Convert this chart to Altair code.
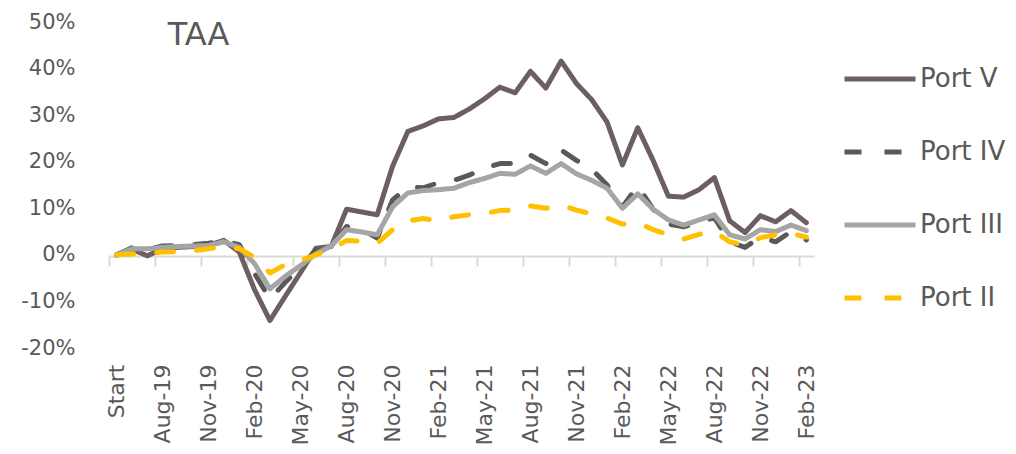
import altair as alt
import pandas as pd

chart_title = ["TAA"]
months = ["Start", "Jun-19", "Jul-19", "Aug-19", "Sep-19", "Oct-19", "Nov-19", "Dec-19",
          "Jan-20", "Feb-20", "Mar-20", "Apr-20", "May-20", "Jun-20", "Jul-20", "Aug-20",
          "Sep-20", "Oct-20", "Nov-20", "Dec-20", "Jan-21", "Feb-21", "Mar-21", "Apr-21",
          "May-21", "Jun-21", "Jul-21", "Aug-21", "Sep-21", "Oct-21", "Nov-21", "Dec-21",
          "Jan-22", "Feb-22", "Mar-22", "Apr-22", "May-22", "Jun-22", "Jul-22", "Aug-22",
          "Sep-22", "Oct-22", "Nov-22", "Dec-22", "Jan-23", "Feb-23"]
tick_months = ["Start", "Aug-19", "Nov-19", "Feb-20", "May-20", "Aug-20", "Nov-20", "Feb-21",
               "May-21", "Aug-21", "Nov-21", "Feb-22", "May-22", "Aug-22", "Nov-22", "Feb-23"]
y_ticks = [-0.2, -0.1, 0.0, 0.1, 0.2, 0.3, 0.4, 0.5]

series = ["Port V", "Port IV", "Port III", "Port II"]

port_v = [0, 1.2, -0.2, 1.3, 1.6, 1.8, 2.1, 3.1, 0.6, -7.5, -14.1, -8.9, -3.8, 1.4, 1.8,
          9.8, 9.2, 8.6, 19.0, 26.5, 27.7, 29.2,
          29.5, 31.3, 33.5, 36.0, 34.8, 39.4, 35.8, 41.6, 36.8, 33.3,
          28.5, 19.3, 27.3, 20.3, 12.6, 12.4, 14.0, 16.6, 7.3, 4.8, 8.4, 7.1, 9.5, 6.9]
port_iv = [0, 1.5, 1.2, 1.9, 2.0, 2.2, 2.5, 3.0, 2.2, -4.0, -9.5, -5.9, -2.5, 1.0, 1.8,
           6.1, 5.5, 3.6, 11.8, 14.6, 14.4, 15.5,
           16.0, 17.1, 18.6, 19.6, 19.6, 21.4, 19.6, 22.5, 20.3, 18.4,
           15.0, 10.3, 14.8, 9.8, 6.6, 6.0, 7.0, 8.0, 2.8, 1.6, 3.8, 2.8, 5.0, 3.2]
port_iii = [0, 1.3, 1.3, 1.6, 1.8, 1.9, 2.0, 2.8, 1.6, -1.9, -7.3, -4.6, -2.3, 0.2, 1.9,
            5.4, 4.9, 4.3, 10.3, 13.3, 13.8, 14.0,
            14.3, 15.5, 16.4, 17.5, 17.3, 19.1, 17.5, 19.6, 17.4, 16.0,
            14.3, 10.0, 13.1, 9.8, 7.5, 6.4, 7.5, 8.6, 4.3, 3.4, 5.4, 5.0, 6.4, 5.2]
port_ii = [0, 0.2, 0.4, 0.6, 0.7, 0.9, 1.3, 1.8, 1.3, -0.5, -3.9, -2.1, -1.2, 0.0, 1.2,
           3.1, 2.9, 2.5, 5.4, 7.3, 7.8, 7.3,
           8.2, 8.6, 8.9, 9.5, 9.6, 10.5, 10.0, 10.7, 9.6, 8.8,
           7.9, 6.6, 6.9, 5.4, 4.3, 3.4, 4.4, 5.0, 2.8, 2.1, 3.7, 4.3, 4.6, 3.8]

colors = ["#6D5F5F", "#595959", "#A5A5A5", "#FFC000"]
dashes = [[1, 0], [17, 23], [1, 0], [17, 23]]

rows = []
for name, vals in zip(series, [port_v, port_iv, port_iii, port_ii]):
    for m, v in zip(months, vals):
        rows.append({"month": m, "series": name, "value": v / 100})
df = pd.DataFrame(rows)
title_df = pd.DataFrame({"label": chart_title})

FONT = "DejaVu Sans"
TXT = "#595959"
W, H = 705, 326
step = W / len(months)

xscale = alt.Scale(type="point", padding=0.5, domain=months)
yscale = alt.Scale(domain=[-0.2, 0.5], nice=False, zero=False)

legend = alt.Legend(title=None, orient="none", legendX=733, legendY=19,
                    symbolType="stroke", symbolSize=5041, symbolStrokeWidth=5,
                    labelFontSize=26, labelFont=FONT, labelColor=TXT, labelOffset=2,
                    rowPadding=22, padding=0)

yaxis = alt.Axis(values=y_ticks, format=".0%", labelFontSize=21, labelColor=TXT,
                 labelFont=FONT, domain=False, ticks=False, grid=False,
                 labelExpr="replace(datum.label, '\u2212', '-')",
                 labelPadding=34, title=None)

lines = alt.Chart(df).mark_line(strokeWidth=5, strokeCap="round", strokeJoin="round").encode(
    x=alt.X("month:N", scale=xscale,
            axis=alt.Axis(orient="bottom", offset=-92, labels=False, ticks=True, tickSize=10,
                          tickWidth=2, tickColor="#D9D9D9", domainColor="#D9D9D9", domainWidth=2,
                          values=tick_months, tickOffset=-step / 2, grid=False, title=None)),
    y=alt.Y("value:Q", scale=yscale, axis=yaxis),
    color=alt.Color("series:N", scale=alt.Scale(domain=series, range=colors), legend=legend),
    strokeDash=alt.StrokeDash("series:N", scale=alt.Scale(domain=series, range=dashes), legend=legend),
    detail="series:N",
)

labels_layer = alt.Chart(df).mark_point(opacity=0).encode(
    x=alt.X("month:N", scale=xscale,
            axis=alt.Axis(orient="bottom", values=tick_months, labelAngle=270, labelFontSize=22,
                          labelColor=TXT, labelFont=FONT, labelPadding=16, ticks=False,
                          domain=False, grid=False, title=None, labelOverlap=False)),
)

title_layer = alt.Chart(title_df).mark_text(
    align="left", baseline="alphabetic", fontSize=32, font=FONT, color=TXT, dx=5
).encode(
    x=alt.X(datum="Aug-19", type="nominal", scale=xscale, axis=None),
    y=alt.Y(datum=0.45, type="quantitative", scale=yscale, axis=yaxis),
    text="label:N",
)

chart = alt.layer(lines, labels_layer, title_layer).resolve_axis(x="independent").properties(
    width=W, height=H,
    autosize=alt.AutoSizeParams(type="none"),
    padding={"left": 101, "top": 14, "right": 194, "bottom": 98},
).configure_view(stroke=None)

chart.save("out.html", embed_options={"renderer": "svg", "actions": False})
